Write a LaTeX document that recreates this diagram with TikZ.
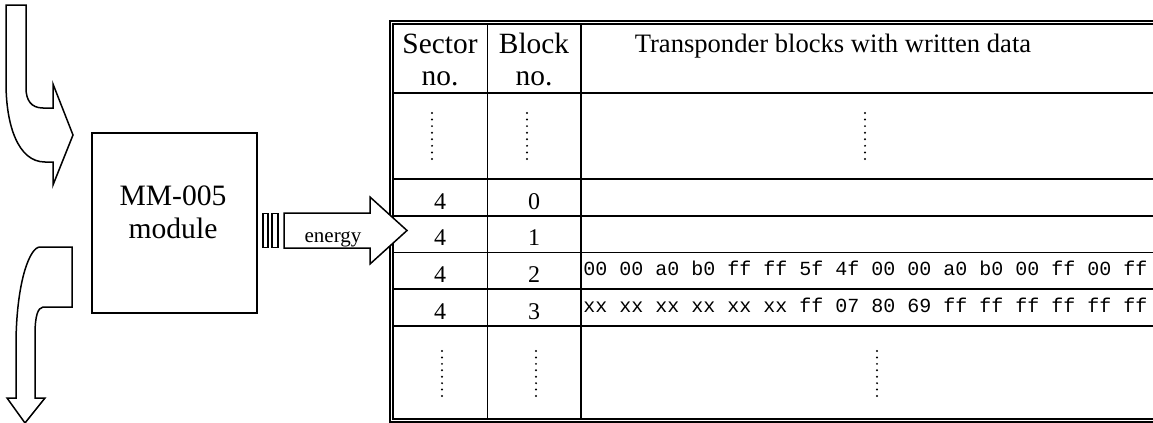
\documentclass[tikz,border=0pt]{standalone}
\usepackage{fontspec}
\setmainfont{Liberation Serif}
\setmonofont{Liberation Mono}
\usetikzlibrary{positioning}

\tikzstyle{outline} = [draw=black, line width=0.75pt, fill=white, line join=miter]
\tikzstyle{modbox} = [draw=black, line width=0.8pt, minimum width=82.5pt, minimum height=90pt, inner sep=0pt]
\tikzstyle{bar} = [draw=black, line width=0.6pt, fill=white, inner sep=0pt, minimum height=17pt]
\tikzstyle{thickrule} = [line width=0.7pt]
\tikzstyle{thinrule} = [line width=0.4pt]
\tikzstyle{dblrule} = [line width=0.6pt]
\tikzstyle{headtext} = [font=\fontsize{14.7}{16}\selectfont, align=center, inner sep=0pt, anchor=base]
\tikzstyle{numtext} = [font=\fontsize{12}{14}\selectfont, inner sep=0pt, anchor=base]
\tikzstyle{hextext} = [font=\ttfamily\fontsize{10}{12}\selectfont, inner sep=0pt, anchor=base west]

\begin{document}
\begin{tikzpicture}[x=0.5pt, y=-0.5pt]
\useasboundingbox (0,0) rectangle (1153,423);

% incoming and outgoing curved arrows
\draw[outline] (6,5) -- (26,5) -- (26,88) .. controls (26,100) and (31,108) .. (43,108)
   -- (53,108) -- (53,84) -- (73,135) -- (53,185) -- (53,162) -- (45,162)
   .. controls (18,162) and (6,125) .. (6,83) -- cycle;
\draw[outline] (40,247) -- (72,247) -- (72,307) -- (43,307)
   .. controls (38,308) and (35,315) .. (35,335) -- (35,398) -- (45,398) -- (25,423)
   -- (7,398) -- (16,398) -- (16,340) .. controls (17,280) and (30,247) .. (40,247) -- cycle;

% module
\node[modbox] (mod) at (174.5,223) {};
\node[font=\fontsize{14.8}{16.5}\selectfont, align=center, inner sep=0pt, anchor=base] (modtxt) at (173,238) {MM-005\\module};

% table
\draw[dblrule] (1153,21) -- (390,21) -- (390,422) -- (1153,422);
\draw[dblrule] (1153,24) -- (393,24) -- (393,419) -- (1153,419);
\draw[thinrule] (487,24) -- (487,419);
\draw[thickrule] (581,24) -- (581,419);
\foreach \y in {93,179,216,289,326}
   \draw[thickrule] (393,\y) -- (1153,\y);
\draw[thinrule] (393,252) -- (1153,252);

\node[headtext] (sec) at (440,85) {Sector\\no.};
\node[headtext] (blk) at (534,85) {Block\\no.};
\node[headtext, font=\fontsize{13.3}{16}\selectfont] (dat) at (833,53) {Transponder blocks with written data};

\node[numtext] (s0) at (440,209) {4};
\node[numtext] (b0) at (534,209) {0};
\node[numtext] (s1) at (440,245) {4};
\node[numtext] (b1) at (534,245) {1};
\node[numtext] (s2) at (440,282) {4};
\node[numtext] (b2) at (534,282) {2};
\node[numtext] (s3) at (440,319) {4};
\node[numtext] (b3) at (534,319) {3};
\node[hextext] (d2) at (583,275) {00 00 a0 b0 ff ff 5f 4f 00 00 a0 b0 00 ff 00 ff};
\node[hextext] (d3) at (583,312) {xx xx xx xx xx xx ff 07 80 69 ff ff ff ff ff ff};

% elided rows
\foreach \k in {0,...,7} {
   \fill (432,113+\k*6.57) circle (0.55pt);
   \fill (527,113+\k*6.57) circle (0.55pt);
   \fill (865,113+\k*6.57) circle (0.55pt);
   \fill (442,351+\k*6.43) circle (0.55pt);
   \fill (536,351+\k*6.43) circle (0.55pt);
   \fill (877,351+\k*6.43) circle (0.55pt);
}

% energy arrow
\node[bar, minimum width=2.5pt] (bar1) at (265.5,230.5) {};
\node[bar, minimum width=3pt] (bar2) at (275,230.5) {};
\draw[outline] (284,213) -- (370,213) -- (370,197) -- (407,230.5) -- (370,264) -- (370,248) -- (284,248) -- cycle;
\node[font=\fontsize{10.5}{13}\selectfont, inner sep=0pt, anchor=base] (nrg) at (333,242) {energy};
\end{tikzpicture}
\end{document}
